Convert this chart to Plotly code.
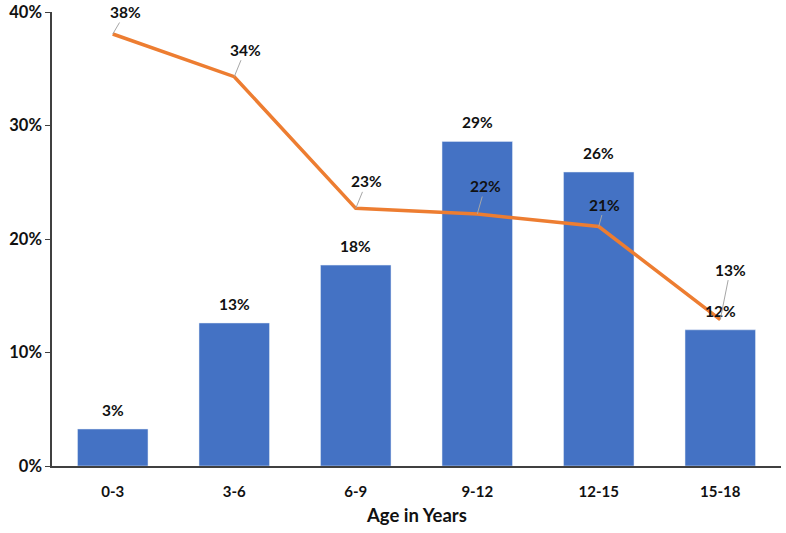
import plotly.graph_objects as go

categories = ["0-3", "3-6", "6-9", "9-12", "12-15", "15-18"]
bar_values = [0.0326, 0.126, 0.177, 0.286, 0.259, 0.120]
line_values = [0.3806, 0.343, 0.227, 0.222, 0.211, 0.129]
line_label_offsets = [(13, -22), (11, -27), (11, -27), (8, -28), (6, -22), (10, -50)]
x_title = "Age in Years"

FONT = "Lato"
BLUE = "#4472C4"
ORANGE = "#ED7D31"
TXT = "#111111"

def f(size):
    return dict(family=FONT, size=size, color=TXT, weight="bold")

fig = go.Figure()
fig.add_trace(go.Bar(x=categories, y=bar_values, marker_color=BLUE, width=0.58,
                     showlegend=False, hoverinfo="skip"))
fig.add_trace(go.Scatter(x=categories, y=line_values, mode="lines",
                         line=dict(color=ORANGE, width=3.5), showlegend=False,
                         hoverinfo="skip", cliponaxis=False))

annotations = []
for c, v in zip(categories, bar_values):
    annotations.append(dict(x=c, y=v, text=f"{round(v*100)}%", showarrow=False,
                            yanchor="middle", yshift=19, font=f(15.5)))
for c, v, (ax, ay) in zip(categories, line_values, line_label_offsets):
    annotations.append(dict(x=c, y=v, text=f"{round(v*100)}%", showarrow=True,
                            arrowhead=0, arrowwidth=1, arrowcolor="#A6A6A6",
                            ax=ax, ay=ay, font=f(15.5)))
annotations.append(dict(x=0.5, y=-0.108, xref="paper", yref="paper", text=x_title,
                        showarrow=False, yanchor="middle", font=f(18.5)))

fig.update_layout(
    width=786, height=533,
    margin=dict(l=52, r=5, t=12, b=67),
    plot_bgcolor="white", paper_bgcolor="white",
    annotations=annotations,
    xaxis=dict(showline=True, linecolor="#404040", linewidth=1.5, ticks="",
               showgrid=False, automargin=False,
               tickfont=f(15), ticklabelstandoff=11),
    yaxis=dict(range=[0, 0.40], tickvals=[0, 0.1, 0.2, 0.3, 0.4], tickformat=".0%",
               showline=True, linecolor="#404040", linewidth=1.5,
               ticks="outside", ticklen=5, tickcolor="#404040", showgrid=False,
               zeroline=False, automargin=False,
               tickfont=f(16.5)),
)

fig.write_html("out.html", config={"displayModeBar": False},
               post_script="document.body.style.margin='0px';document.body.style.overflow='hidden';")
